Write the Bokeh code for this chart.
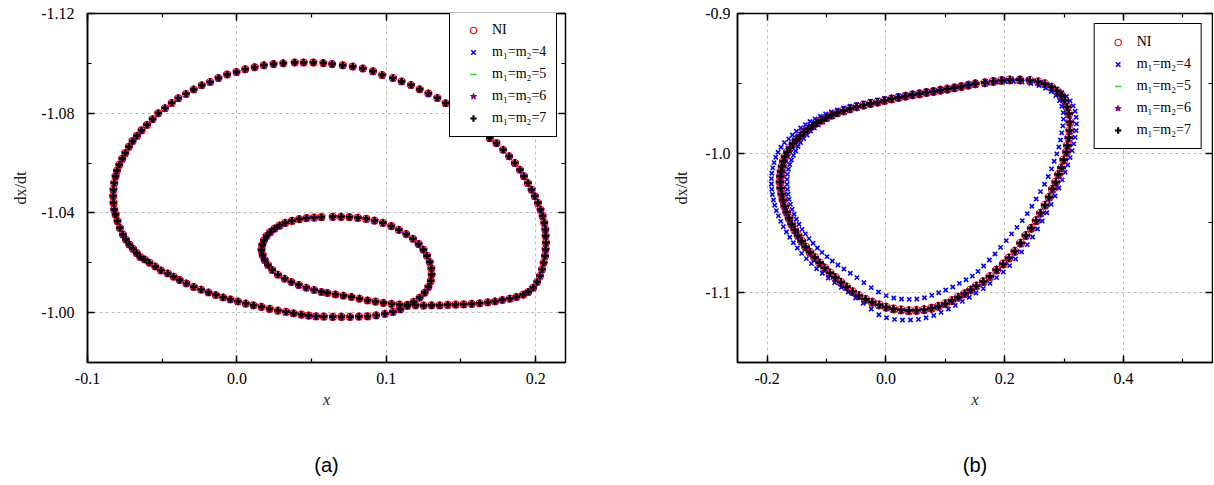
import math
from bokeh.plotting import figure
from bokeh.models import (Range1d, LinearAxis, SingleIntervalTicker, FixedTicker, PrintfTickFormatter,
                          Legend, LegendItem)
from bokeh.layouts import row
from bokeh.embed import file_html
from bokeh.resources import INLINE

# ---------------- data ----------------
series_labels = ["NI", "m\u2081=m\u2082=4", "m\u2081=m\u2082=5", "m\u2081=m\u2082=6", "m\u2081=m\u2082=7"]
panel_captions = ["(a)", "(b)"]

# panel (a): all five solutions coincide; (x, dx/dt) pairs
left_big_loop = [
    (0.0579, -1.1001), (0.0512, -1.1003), (0.0447, -1.1003), (0.0387, -1.1003), (0.0311, -1.1000),
    (0.0246, -1.0997), (0.0181, -1.0992), (0.0119, -1.0984), (0.0056, -1.0976), (-0.0002, -1.0965),
    (-0.0065, -1.0955), (-0.0123, -1.0941), (-0.0179, -1.0925), (-0.0235, -1.0912), (-0.0289, -1.0895),
    (-0.0340, -1.0877), (-0.0392, -1.0860), (-0.0436, -1.0841), (-0.0481, -1.0820), (-0.0526, -1.0800),
    (-0.0564, -1.0776), (-0.0602, -1.0753), (-0.0638, -1.0731), (-0.0669, -1.0709), (-0.0698, -1.0688),
    (-0.0723, -1.0665), (-0.0747, -1.0640), (-0.0767, -1.0617), (-0.0787, -1.0593), (-0.0803, -1.0569),
    (-0.0812, -1.0547), (-0.0821, -1.0520), (-0.0826, -1.0493), (-0.0828, -1.0467), (-0.0826, -1.0440),
    (-0.0821, -1.0413), (-0.0812, -1.0393), (-0.0799, -1.0367), (-0.0783, -1.0340), (-0.0763, -1.0313),
    (-0.0743, -1.0293), (-0.0720, -1.0273), (-0.0696, -1.0256), (-0.0671, -1.0239), (-0.0647, -1.0223),
    (-0.0617, -1.0213), (-0.0586, -1.0200), (-0.0546, -1.0185), (-0.0508, -1.0169), (-0.0463, -1.0157),
    (-0.0423, -1.0144), (-0.0383, -1.0131), (-0.0338, -1.0117), (-0.0289, -1.0103), (-0.0239, -1.0092),
    (-0.0190, -1.0081), (-0.0141, -1.0071), (-0.0092, -1.0061), (-0.0043, -1.0053), (0.0007, -1.0045),
    (0.0060, -1.0036), (0.0112, -1.0029), (0.0165, -1.0023), (0.0219, -1.0015), (0.0275, -1.0008),
    (0.0329, -1.0003), (0.0380, -0.9997), (0.0432, -0.9992), (0.0481, -0.9988), (0.0530, -0.9985),
    (0.0582, -0.9984), (0.0642, -0.9983), (0.0700, -0.9983), (0.0758, -0.9983), (0.0817, -0.9984),
    (0.0875, -0.9985), (0.0933, -0.9989), (0.0991, -0.9995), (0.1045, -1.0003), (0.1094, -1.0013),
    (0.1141, -1.0027), (0.1184, -1.0043), (0.1224, -1.0060), (0.1257, -1.0080), (0.1282, -1.0103),
    (0.1298, -1.0127), (0.1304, -1.0152), (0.1302, -1.0177), (0.1291, -1.0203), (0.1273, -1.0228),
    (0.1249, -1.0252), (0.1217, -1.0275), (0.1179, -1.0296), (0.1134, -1.0315), (0.1085, -1.0332),
    (0.1034, -1.0347), (0.0978, -1.0360), (0.0922, -1.0369), (0.0866, -1.0376), (0.0810, -1.0380),
    (0.0754, -1.0383), (0.0698, -1.0384), (0.0642, -1.0384),
]
left_inner_loop = [
    (0.0566, -1.0383), (0.0517, -1.0381), (0.0467, -1.0379), (0.0418, -1.0375), (0.0369, -1.0368),
    (0.0324, -1.0360), (0.0286, -1.0349), (0.0253, -1.0337), (0.0224, -1.0323), (0.0199, -1.0307),
    (0.0181, -1.0289), (0.0170, -1.0271), (0.0165, -1.0251), (0.0172, -1.0231), (0.0186, -1.0211),
    (0.0208, -1.0191), (0.0237, -1.0171), (0.0275, -1.0152), (0.0320, -1.0136), (0.0365, -1.0123),
    (0.0414, -1.0111), (0.0465, -1.0100), (0.0517, -1.0091), (0.0566, -1.0083), (0.0606, -1.0079),
    (0.0660, -1.0073), (0.0714, -1.0068), (0.0767, -1.0063), (0.0821, -1.0056), (0.0875, -1.0049),
    (0.0928, -1.0044), (0.0982, -1.0039), (0.1036, -1.0035), (0.1089, -1.0032), (0.1143, -1.0031),
    (0.1197, -1.0029), (0.1251, -1.0028), (0.1304, -1.0029), (0.1358, -1.0029), (0.1412, -1.0031),
    (0.1465, -1.0032), (0.1519, -1.0033), (0.1573, -1.0035), (0.1626, -1.0037), (0.1680, -1.0041),
    (0.1729, -1.0045), (0.1778, -1.0051), (0.1828, -1.0056), (0.1872, -1.0063), (0.1917, -1.0072),
    (0.1951, -1.0083), (0.1984, -1.0100), (0.2011, -1.0123), (0.2029, -1.0147), (0.2043, -1.0173),
    (0.2054, -1.0200), (0.2063, -1.0227), (0.2067, -1.0253), (0.2069, -1.0280), (0.2067, -1.0307),
    (0.2065, -1.0333), (0.2058, -1.0360), (0.2047, -1.0387), (0.2033, -1.0413), (0.2016, -1.0440),
    (0.1995, -1.0467), (0.1973, -1.0493), (0.1948, -1.0520), (0.1922, -1.0547), (0.1895, -1.0573),
    (0.1861, -1.0600), (0.1823, -1.0627), (0.1783, -1.0653), (0.1738, -1.0680), (0.1693, -1.0700),
    (0.1653, -1.0727), (0.1615, -1.0753), (0.1570, -1.0776), (0.1514, -1.0800), (0.1459, -1.0820),
    (0.1398, -1.0840), (0.1342, -1.0861), (0.1282, -1.0879), (0.1224, -1.0896), (0.1166, -1.0913),
    (0.1103, -1.0927), (0.1045, -1.0941), (0.0973, -1.0953), (0.0911, -1.0968), (0.0843, -1.0979),
    (0.0776, -1.0987), (0.0709, -1.0992), (0.0638, -1.0997),
]

# panel (b): NI and m=5,6,7 coincide
right_converged = [
    (0.1506, -0.9504), (0.1388, -0.9514), (0.1270, -0.9523), (0.1153, -0.9533), (0.1035, -0.9542),
    (0.0917, -0.9550), (0.0800, -0.9559), (0.0682, -0.9566), (0.0564, -0.9576), (0.0447, -0.9583),
    (0.0329, -0.9593), (0.0211, -0.9602), (0.0094, -0.9612), (-0.0024, -0.9624), (-0.0141, -0.9636),
    (-0.0259, -0.9645), (-0.0377, -0.9657), (-0.0494, -0.9669), (-0.0606, -0.9683), (-0.0713, -0.9698),
    (-0.0819, -0.9712), (-0.0915, -0.9729), (-0.1004, -0.9746), (-0.1088, -0.9765), (-0.1167, -0.9784),
    (-0.1240, -0.9805), (-0.1312, -0.9827), (-0.1380, -0.9851), (-0.1447, -0.9877), (-0.1508, -0.9903),
    (-0.1564, -0.9932), (-0.1615, -0.9963), (-0.1660, -0.9994), (-0.1699, -1.0027), (-0.1727, -1.0061),
    (-0.1749, -1.0097), (-0.1766, -1.0133), (-0.1777, -1.0168), (-0.1783, -1.0209), (-0.1772, -1.0252),
    (-0.1755, -1.0295), (-0.1733, -1.0338), (-0.1705, -1.0381), (-0.1671, -1.0424), (-0.1632, -1.0467),
    (-0.1587, -1.0510), (-0.1536, -1.0551), (-0.1480, -1.0591), (-0.1419, -1.0632), (-0.1352, -1.0673),
    (-0.1279, -1.0711), (-0.1200, -1.0749), (-0.1116, -1.0787), (-0.1032, -1.0823), (-0.0943, -1.0859),
    (-0.0853, -1.0892), (-0.0758, -1.0926), (-0.0663, -1.0959), (-0.0562, -1.0993), (-0.0455, -1.1022),
    (-0.0343, -1.1048), (-0.0231, -1.1069), (-0.0113, -1.1088), (0.0004, -1.1105), (0.0127, -1.1117),
    (0.0256, -1.1124), (0.0385, -1.1129), (0.0514, -1.1127), (0.0643, -1.1122), (0.0766, -1.1112),
    (0.0884, -1.1098), (0.1001, -1.1079), (0.1113, -1.1057), (0.1220, -1.1033), (0.1326, -1.1007),
    (0.1427, -1.0981), (0.1522, -1.0952), (0.1640, -1.0921), (0.1752, -1.0885), (0.1864, -1.0838),
    (0.1976, -1.0795), (0.2072, -1.0752), (0.2172, -1.0704), (0.2268, -1.0646), (0.2357, -1.0591),
    (0.2447, -1.0539), (0.2531, -1.0484), (0.2604, -1.0431), (0.2682, -1.0374), (0.2749, -1.0317),
    (0.2805, -1.0259), (0.2861, -1.0209), (0.2906, -1.0154), (0.2957, -1.0106), (0.2996, -1.0049),
    (0.3041, -0.9994), (0.3057, -0.9946), (0.3080, -0.9891), (0.3097, -0.9839), (0.3097, -0.9779),
    (0.3080, -0.9719), (0.3052, -0.9671), (0.3013, -0.9624), (0.2957, -0.9588), (0.2884, -0.9557),
    (0.2789, -0.9528), (0.2677, -0.9504), (0.2564, -0.9490), (0.2424, -0.9480), (0.2256, -0.9476),
    (0.2088, -0.9476), (0.1948, -0.9480), (0.1808, -0.9487), (0.1668, -0.9497),
]

# panel (b): m1=m2=4 alternates between an outer and an inner ring
right_m4_outer = [
    (0.1506, -0.9497), (0.1388, -0.9507), (0.1270, -0.9516), (0.1153, -0.9526), (0.1035, -0.9535),
    (0.0917, -0.9542), (0.0800, -0.9550), (0.0682, -0.9557), (0.0564, -0.9566), (0.0447, -0.9573),
    (0.0329, -0.9583), (0.0211, -0.9590), (0.0094, -0.9600), (-0.0024, -0.9609), (-0.0141, -0.9619),
    (-0.0259, -0.9628), (-0.0377, -0.9640), (-0.0494, -0.9652), (-0.0606, -0.9664), (-0.0713, -0.9676),
    (-0.0819, -0.9691), (-0.0920, -0.9705), (-0.1015, -0.9719), (-0.1105, -0.9736), (-0.1195, -0.9755),
    (-0.1279, -0.9774), (-0.1357, -0.9796), (-0.1436, -0.9820), (-0.1508, -0.9843), (-0.1576, -0.9870),
    (-0.1637, -0.9898), (-0.1710, -0.9925), (-0.1766, -0.9958), (-0.1817, -0.9994), (-0.1856, -1.0030),
    (-0.1884, -1.0068), (-0.1906, -1.0106), (-0.1923, -1.0144), (-0.1929, -1.0183), (-0.1929, -1.0221),
    (-0.1923, -1.0259), (-0.1912, -1.0297), (-0.1895, -1.0336), (-0.1873, -1.0374), (-0.1845, -1.0412),
    (-0.1811, -1.0450), (-0.1772, -1.0489), (-0.1727, -1.0527), (-0.1676, -1.0565), (-0.1620, -1.0603),
    (-0.1559, -1.0642), (-0.1492, -1.0680), (-0.1419, -1.0718), (-0.1340, -1.0756), (-0.1256, -1.0792),
    (-0.1167, -1.0828), (-0.1071, -1.0861), (-0.0971, -1.0895), (-0.0864, -1.0928), (-0.0752, -1.0962),
    (-0.0634, -1.0995), (-0.0511, -1.1038), (-0.0382, -1.1076), (-0.0248, -1.1117), (-0.0119, -1.1158),
    (0.0010, -1.1179), (0.0144, -1.1191), (0.0279, -1.1196), (0.0413, -1.1196), (0.0548, -1.1191),
    (0.0676, -1.1179), (0.0805, -1.1163), (0.0929, -1.1141), (0.1052, -1.1117), (0.1169, -1.1091),
    (0.1287, -1.1062), (0.1405, -1.1033), (0.1517, -1.1002), (0.1640, -1.0971), (0.1752, -1.0933),
    (0.1864, -1.0892), (0.1976, -1.0852), (0.2083, -1.0806), (0.2184, -1.0759), (0.2284, -1.0708),
    (0.2380, -1.0656), (0.2469, -1.0601), (0.2553, -1.0544), (0.2632, -1.0486), (0.2710, -1.0427),
    (0.2783, -1.0367), (0.2850, -1.0307), (0.2912, -1.0250), (0.2968, -1.0192), (0.3018, -1.0137),
    (0.3063, -1.0085), (0.3102, -1.0032), (0.3136, -0.9982), (0.3164, -0.9934), (0.3186, -0.9887),
    (0.3203, -0.9839), (0.3209, -0.9791), (0.3203, -0.9743), (0.3186, -0.9700), (0.3153, -0.9662),
    (0.3102, -0.9626), (0.3041, -0.9595), (0.2962, -0.9566), (0.2873, -0.9540), (0.2766, -0.9516),
    (0.2654, -0.9497), (0.2536, -0.9483), (0.2402, -0.9473), (0.2256, -0.9468), (0.2111, -0.9468),
    (0.1965, -0.9471), (0.1819, -0.9478), (0.1674, -0.9487),
]
right_m4_inner = [
    (0.1506, -0.9511), (0.1388, -0.9521), (0.1270, -0.9530), (0.1153, -0.9540), (0.1035, -0.9550),
    (0.0917, -0.9557), (0.0800, -0.9566), (0.0682, -0.9573), (0.0564, -0.9583), (0.0447, -0.9590),
    (0.0329, -0.9600), (0.0211, -0.9609), (0.0094, -0.9619), (-0.0024, -0.9631), (-0.0141, -0.9643),
    (-0.0259, -0.9652), (-0.0377, -0.9664), (-0.0494, -0.9676), (-0.0606, -0.9691), (-0.0713, -0.9705),
    (-0.0814, -0.9722), (-0.0903, -0.9738), (-0.0987, -0.9758), (-0.1066, -0.9777), (-0.1139, -0.9798),
    (-0.1206, -0.9820), (-0.1268, -0.9843), (-0.1329, -0.9870), (-0.1385, -0.9896), (-0.1436, -0.9925),
    (-0.1480, -0.9953), (-0.1520, -0.9985), (-0.1559, -1.0016), (-0.1592, -1.0049), (-0.1620, -1.0082),
    (-0.1643, -1.0116), (-0.1660, -1.0152), (-0.1665, -1.0188), (-0.1665, -1.0224), (-0.1660, -1.0259),
    (-0.1648, -1.0295), (-0.1632, -1.0331), (-0.1609, -1.0367), (-0.1581, -1.0403), (-0.1548, -1.0438),
    (-0.1508, -1.0474), (-0.1464, -1.0510), (-0.1413, -1.0546), (-0.1357, -1.0579), (-0.1296, -1.0613),
    (-0.1228, -1.0646), (-0.1155, -1.0680), (-0.1077, -1.0711), (-0.0993, -1.0742), (-0.0903, -1.0773),
    (-0.0808, -1.0802), (-0.0707, -1.0830), (-0.0601, -1.0861), (-0.0489, -1.0892), (-0.0371, -1.0928),
    (-0.0248, -1.0964), (-0.0125, -1.0995), (0.0004, -1.1021), (0.0133, -1.1038), (0.0262, -1.1045),
    (0.0391, -1.1048), (0.0520, -1.1045), (0.0648, -1.1036), (0.0772, -1.1019), (0.0889, -1.1000),
    (0.1007, -1.0981), (0.1125, -1.0959), (0.1237, -1.0933), (0.1349, -1.0907), (0.1455, -1.0881),
    (0.1550, -1.0847), (0.1646, -1.0809), (0.1741, -1.0766), (0.1836, -1.0723), (0.1931, -1.0675),
    (0.2027, -1.0627), (0.2116, -1.0579), (0.2206, -1.0532), (0.2296, -1.0484), (0.2380, -1.0434),
    (0.2458, -1.0381), (0.2531, -1.0329), (0.2604, -1.0276), (0.2671, -1.0223), (0.2733, -1.0168),
    (0.2789, -1.0113), (0.2833, -1.0058), (0.2878, -1.0006), (0.2912, -0.9956), (0.2940, -0.9906),
    (0.2962, -0.9855), (0.2979, -0.9805), (0.2990, -0.9757), (0.2985, -0.9710), (0.2962, -0.9664),
    (0.2923, -0.9624), (0.2861, -0.9588), (0.2783, -0.9559), (0.2688, -0.9535), (0.2576, -0.9516),
    (0.2441, -0.9502), (0.2296, -0.9492), (0.2150, -0.9487), (0.2004, -0.9487), (0.1859, -0.9492),
    (0.1713, -0.9499),
]

# ---------------- plotting ----------------
SERIF = "Liberation Serif"


def xs(pts):
    return [p[0] for p in pts]


def ys(pts):
    return [p[1] for p in pts]


def build(width, bl, br, xr, yr, xint, yint, xfmt, yfmt, ystand, ylab_stand, caption):
    p = figure(width=width, height=484, x_range=xr, y_range=yr, output_backend="svg",
               toolbar_location=None, min_border_left=bl, min_border_right=br,
               min_border_top=13, min_border_bottom=122)
    p.outline_line_color = "black"
    p.outline_line_width = 1.5
    p.outline_line_alpha = 1.0
    p.background_fill_color = "white"
    p.border_fill_color = "white"
    xt = SingleIntervalTicker(interval=xint, num_minor_ticks=2)
    yt = SingleIntervalTicker(interval=yint, num_minor_ticks=2)
    xa = p.xaxis[0]
    ya = p.yaxis[0]
    xa.ticker = xt
    ya.ticker = yt
    xa.formatter = PrintfTickFormatter(format=xfmt)
    ya.formatter = PrintfTickFormatter(format=yfmt)
    for ax in (xa, ya):
        ax.major_tick_in = 7
        ax.major_tick_out = 0
        ax.minor_tick_in = 4
        ax.minor_tick_out = 0
        ax.axis_line_width = 1.5
        ax.axis_line_color = "black"
        ax.major_tick_line_width = 1.5
        ax.minor_tick_line_width = 1.2
        ax.major_tick_line_color = "black"
        ax.minor_tick_line_color = "black"
        ax.major_label_text_font = SERIF
        ax.major_label_text_font_size = "16px"
        ax.major_label_text_color = "black"
        ax.axis_label_text_font = SERIF
        ax.axis_label_text_font_size = "16px"
        ax.axis_label_text_color = "#222222"
    xa.axis_label = "x"
    xa.axis_label_text_font_style = "italic"
    xa.major_label_standoff = 10
    xa.axis_label_standoff = 4
    ya.axis_label = "dx/dt"
    ya.axis_label_text_font_style = "normal"
    ya.major_label_standoff = ystand
    ya.axis_label_standoff = ylab_stand
    # mirrored tick marks on the top and right edges (no labels drawn)
    for loc, t in (("above", xt), ("right", yt)):
        ax = LinearAxis(ticker=t, major_label_text_font_size="1px", major_label_text_color=None,
                        major_label_standoff=0,
                        major_tick_in=7, major_tick_out=0, minor_tick_in=4, minor_tick_out=0,
                        axis_line_color=None, major_tick_line_width=1.5, minor_tick_line_width=1.2,
                        major_tick_line_color="black", minor_tick_line_color="black")
        p.add_layout(ax, loc)
    # panel caption below, as the label of an empty axis
    cap = LinearAxis(ticker=FixedTicker(ticks=[]), axis_label=caption,
                     axis_label_text_font="Liberation Sans", axis_label_text_font_size="20px",
                     axis_label_text_font_style="normal", axis_label_text_color="black",
                     axis_label_standoff=43, major_tick_in=0, major_tick_out=0,
                     minor_tick_in=0, minor_tick_out=0, axis_line_color=None,
                     major_label_text_color=None, major_label_text_font_size="1px",
                     major_label_standoff=0)
    p.add_layout(cap, "below")
    for g in (p.xgrid[0], p.ygrid[0]):
        g.grid_line_color = "#b8b8b8"
        g.grid_line_dash = "3 3"
        g.grid_line_width = 1
    return p


def add_series(p, data_per_series, size):
    styles = [
        dict(marker="circle", size=size, fill_color=None, line_color="red", line_width=1.1),
        dict(marker="x", size=size - 2, line_color="blue", line_width=1.6),
        dict(marker="dash", angle=math.pi / 2, size=size - 1, line_color="#22dd22", line_width=1.5),
        dict(marker="star", size=size + 1, fill_color="purple", line_color="purple", line_width=1),
        dict(marker="cross", size=size, line_color="black", line_width=2.2),
    ]
    rends = []
    for pts, st in zip(data_per_series, styles):
        rends.append(p.scatter(xs(pts), ys(pts), **st))
    return rends


def add_legend(p, rends, location, margin=10):
    items = [LegendItem(label=lab, renderers=[r]) for lab, r in zip(series_labels, rends)]
    lg = Legend(items=items, location=location, margin=margin,
                label_text_font=SERIF, label_text_font_size="14px", label_text_color="black",
                border_line_color="black", border_line_width=1.2, border_line_alpha=1,
                background_fill_color="white", background_fill_alpha=1,
                padding=10, spacing=6, glyph_height=16, glyph_width=26, label_height=16,
                label_standoff=6)
    p.add_layout(lg)


# panel (a)
left_all = left_big_loop + left_inner_loop
pa = build(648, 87, 83, Range1d(-0.1, 0.22), Range1d(-0.98, -1.12), 0.1, 0.04,
           "%.1f", "%.2f", 13, 9, panel_captions[0])
ra = add_series(pa, [left_all] * 5, 7)
add_legend(pa, ra, (362, 225))

# panel (b)
right_m4 = right_m4_outer + right_m4_inner
pb = build(565, 89, 1, Range1d(-0.25, 0.55), Range1d(-1.15, -0.9), 0.2, 0.1,
           "%.1f", "%.1f", 7, 12, panel_captions[1])
rb = add_series(pb, [right_converged, right_m4, right_converged, right_converged, right_converged], 8)
add_legend(pb, rb, "top_right", 10)

layout = row(pa, pb)
open("out.html", "w").write(file_html(layout, INLINE))
